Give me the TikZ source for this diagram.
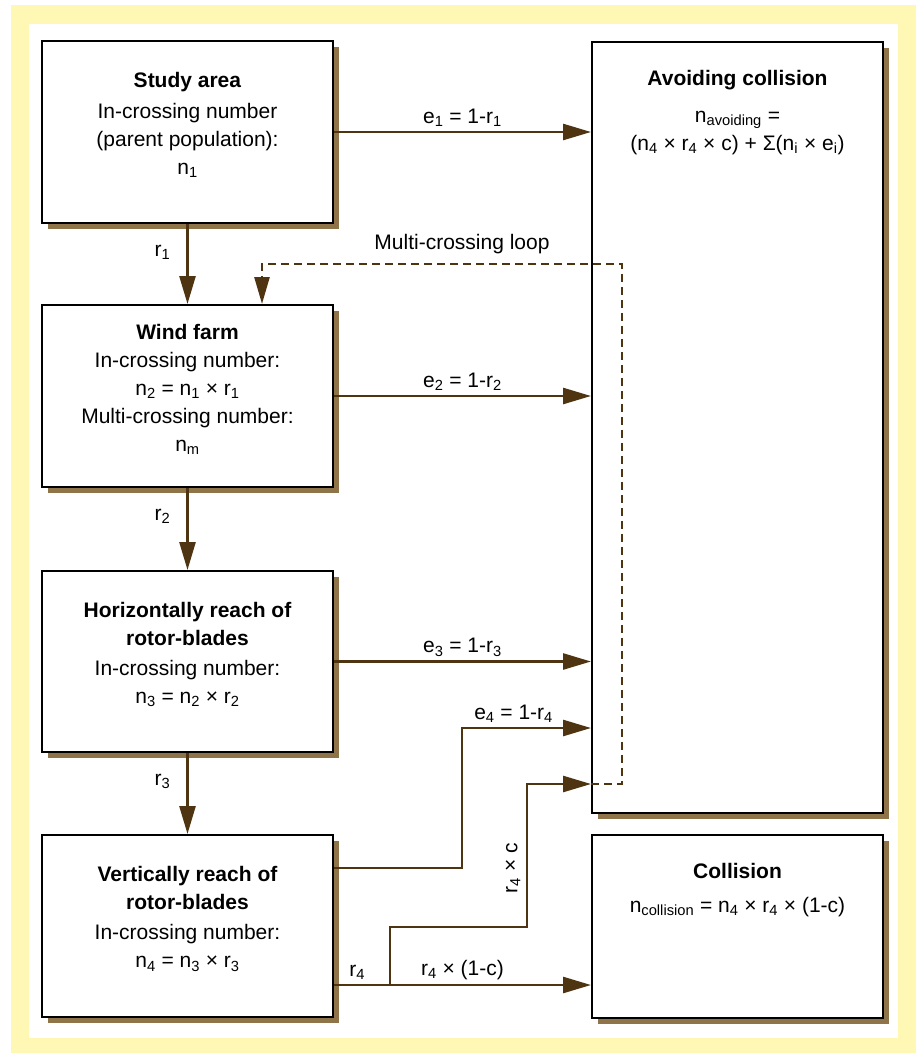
\documentclass[tikz,border=0pt]{standalone}
\usepackage{fontspec}
\setmainfont{Liberation Sans}
\usepackage{xcolor}
\usepackage{tikz}
\usetikzlibrary{positioning,shadows,arrows.meta}
\definecolor{frameyellow}{HTML}{FFF8B4}
\definecolor{shadowbrown}{HTML}{8E7448}
\definecolor{flowbrown}{HTML}{4F3411}
\newcommand{\subs}[1]{\textsubscript{#1}}

\begin{document}
\begin{tikzpicture}[x=1pt, y=-1pt, font=\fontsize{21}{28}\selectfont,
  stagebox/.style={rectangle, draw=black, line width=2pt, fill=white, minimum width=291pt, inner sep=0pt, drop shadow={shadow xshift=6pt, shadow yshift=-6pt, fill=shadowbrown, opacity=1}},
  boxtext/.style={align=center, inner sep=0pt},
  flow/.style={draw=flowbrown, line width=2.6pt, -{Triangle[length=28pt, width=16pt]}},
  loopline/.style={draw=flowbrown, line width=2.6pt, dash pattern=on 8pt off 5pt, -{Triangle[length=27pt, width=15pt]}},
  flowlabel/.style={inner sep=2pt, text=black}]

\useasboundingbox (0,0) rectangle (916,1053);
\fill[frameyellow] (11,5) rectangle (916,1053);
\fill[white] (29,24) rectangle (898,1038);

\node[stagebox, minimum height=182pt] at (187.5, 132) (study) {};
\node[stagebox, minimum height=182pt] at (187.5, 396) (wind) {};
\node[stagebox, minimum height=181pt] at (187.5, 661.5) (horiz) {};
\node[stagebox, minimum height=182pt] at (187.5, 926) (vert) {};
\node[stagebox, minimum height=771pt] at (737.5, 427.5) (avoid) {};
\node[stagebox, minimum height=183pt] at (737.5, 926.5) (coll) {};

\node[boxtext] at ([yshift=7pt]study.center) (studytxt) {\textbf{Study area}\\[3pt]In-crossing number\\(parent population):\\n\subs{1}};
\node[boxtext] at ([yshift=7pt]wind.center) (windtxt) {\textbf{Wind farm}\\In-crossing number:\\n\subs{2} = n\subs{1} × r\subs{1}\\Multi-crossing number:\\n\subs{m}};
\node[boxtext] at ([yshift=7pt]horiz.center) (horiztxt) {\textbf{Horizontally reach of}\\\textbf{rotor-blades}\\[2pt]In-crossing number:\\n\subs{3} = n\subs{2} × r\subs{2}};
\node[boxtext] at ([yshift=7pt]vert.center) (verttxt) {\textbf{Vertically reach of}\\\textbf{rotor-blades}\\[2pt]In-crossing number:\\n\subs{4} = n\subs{3} × r\subs{3}};
\node[boxtext, anchor=north, below=29pt of avoid.north] (avoidtxt) {\textbf{Avoiding collision}\\[9pt]n\subs{avoiding} =\\(n\subs{4} × r\subs{4} × c) + Σ(n\subs{i} × e\subs{i})};
\node[boxtext, anchor=north, below=29pt of coll.north] (colltxt) {\textbf{Collision}\\[6pt]n\subs{collision} = n\subs{4} × r\subs{4} × (1-c)};

\draw[flow] (study.south) -- (wind.north) node[flowlabel, pos=0.35, left=14pt] {r\subs{1}};
\draw[flow] (wind.south) -- (horiz.north) node[flowlabel, pos=0.35, left=14pt] {r\subs{2}};
\draw[flow] (horiz.south) -- (vert.north) node[flowlabel, pos=0.35, left=14pt] {r\subs{3}};

\draw[flow] (study.east) -- (study.east -| avoid.west) node[flowlabel, midway, above=2pt] {e\subs{1} = 1-r\subs{1}};
\draw[flow] (wind.east) -- (wind.east -| avoid.west) node[flowlabel, midway, above=2pt] {e\subs{2} = 1-r\subs{2}};
\draw[flow] (horiz.east) -- (horiz.east -| avoid.west) node[flowlabel, midway, above=2pt] {e\subs{3} = 1-r\subs{3}};

\coordinate (e4bend) at (462, 728);
\draw[flow] ([yshift=58pt]vert.east) -| (e4bend) -- (e4bend -| avoid.west) node[flowlabel, pos=0.4, above=2pt] {e\subs{4} = 1-r\subs{4}};

\draw[flow] ([yshift=-59pt]vert.east) -- ([yshift=-58.5pt]coll.west) node[flowlabel, pos=0.09, above=2pt] {r\subs{4}} node[flowlabel, pos=0.5, above=2pt] {r\subs{4} × (1-c)};

\coordinate (split) at (390, 985);
\coordinate (bendc) at (527, 927);
\coordinate (inlet) at (avoid.west |- 0,784);
\draw[flow] (split) |- (bendc) |- (inlet);
\node[flowlabel, rotate=90] at (513, 868) (clabel) {r\subs{4} × c};

\coordinate (looptop) at (262, 264);
\draw[loopline] (inlet) -- ++(31,0) |- (looptop) -- (looptop |- wind.north);
\node[flowlabel] at (462, 244) (looplabel) {Multi-crossing loop};

\end{tikzpicture}
\end{document}
